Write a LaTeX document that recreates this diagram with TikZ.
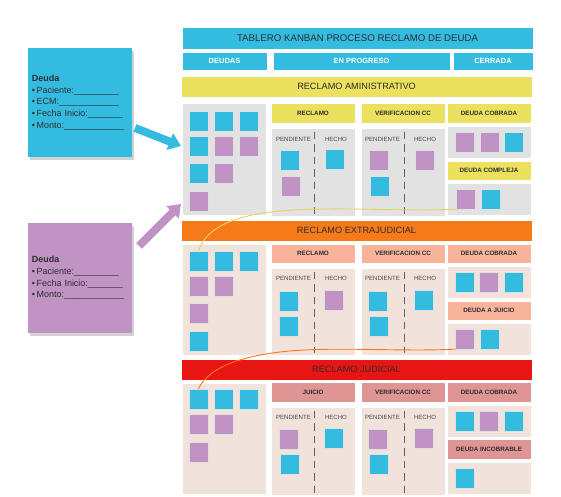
\documentclass[tikz,border=0pt]{standalone}
\usepackage{fontspec}
\setmainfont{Liberation Sans}
\usetikzlibrary{arrows.meta,shadows}

\definecolor{kcyan}{HTML}{33BCE0}
\definecolor{kpurple}{HTML}{C093C4}
\definecolor{kyellow}{HTML}{EBE15F}
\definecolor{korange}{HTML}{F77A1A}
\definecolor{kred}{HTML}{E81515}
\definecolor{kgray}{HTML}{E2E2E2}
\definecolor{ksalmon}{HTML}{F8B39B}
\definecolor{kblush}{HTML}{F2E2DC}
\definecolor{krose}{HTML}{DE9594}
\definecolor{ktext}{HTML}{2E2E2E}

\tikzset{
  panel/.style={draw=white, line width=0.6bp, inner sep=0pt},
  titlebar/.style={panel, fill=kcyan, font=\fontsize{9.7}{11}\selectfont, text=ktext},
  colhead/.style={panel, fill=kcyan, minimum height=18bp, font=\fontsize{7.5}{9}\selectfont\bfseries, text=white},
  lanebar/.style={panel, minimum width=351bp, minimum height=21bp, font=\fontsize{9.2}{10}\selectfont, text=ktext},
  subhead/.style={panel, minimum width=84bp, font=\fontsize{6.3}{8}\selectfont\bfseries, text=ktext},
  area/.style={panel, minimum width=84bp},
  card/.style={minimum width=19bp, minimum height=20bp, inner sep=0pt, draw=black!12, line width=0.3bp,
    drop shadow={shadow xshift=0.5bp, shadow yshift=-0.7bp, opacity=0.25}},
  cyancard/.style={card, fill=kcyan},
  purplecard/.style={card, fill=kpurple},
  colname/.style={font=\fontsize{6.1}{7}\selectfont, text=black!72},
  divider/.style={draw=black!62, line width=0.9bp, dash pattern=on 7.5bp off 5bp, shorten <=4bp, shorten >=2bp},
  bignote/.style={minimum width=104bp, text width=96bp, inner sep=4bp, align=left,
    font=\fontsize{9}{11.7}\selectfont, text=ktext,
    drop shadow={shadow xshift=2bp, shadow yshift=-3bp, opacity=0.35}},
  blockarrow/.style={line width=8bp, -{Triangle[length=12bp, width=17bp]}},
  trail/.style={line width=0.9bp},
}

\begin{document}
\begin{tikzpicture}[x=1bp, y=-1bp]
    \useasboundingbox (0,0) rectangle (561,497);
    \fill[white] (0,0) rectangle (561,497);

    % Board header
    \node[titlebar, minimum width=351bp, minimum height=22bp] (title) at (357.5,38) {TABLERO KANBAN PROCESO RECLAMO DE DEUDA};
    \node[colhead, minimum width=85bp] (deudas) at (224.5,61) {DEUDAS};
    \node[colhead, minimum width=177bp] (progreso) at (361.5,61) {EN PROGRESO};
    \node[colhead, minimum width=80bp] (cerrada) at (493,61) {CERRADA};

    % Lane 1: reclamo administrativo
    \node[lanebar, fill=kyellow] (admin) at (356.5,86.5) {RECLAMO AMINISTRATIVO};
    \node[area, fill=kgray, minimum height=112bp] (pool1) at (224,159) {};
    \node[subhead, fill=kyellow, minimum height=20bp] (rec1) at (313,113) {RECLAMO};
    \node[subhead, fill=kyellow, minimum height=20bp] (ver1) at (403,113) {VERIFICACION CC};
    \node[subhead, fill=kyellow, minimum height=20bp] (cob1) at (489,113) {DEUDA COBRADA};
    \node[area, fill=kgray, minimum height=88bp] (work1a) at (313,172) {};
    \node[area, fill=kgray, minimum height=88bp] (work1b) at (403,172) {};
    \node[area, fill=kgray, minimum height=32bp] (done1) at (489,142) {};
    \node[subhead, fill=kyellow, minimum height=19bp] (comp1) at (489,170.5) {DEUDA COMPLEJA};
    \node[area, fill=kgray, minimum height=32bp] (compbox) at (489,199) {};

    % Lane 2: reclamo extrajudicial
    \node[lanebar, fill=korange] (extra) at (356.5,230.5) {RECLAMO EXTRAJUDICIAL};
    \node[area, fill=kblush, minimum height=111bp] (pool2) at (224,299.5) {};
    \node[subhead, fill=ksalmon, minimum height=19bp] (rec2) at (313,253.5) {RECLAMO};
    \node[subhead, fill=ksalmon, minimum height=19bp] (ver2) at (403,253.5) {VERIFICACION CC};
    \node[subhead, fill=ksalmon, minimum height=19bp] (cob2) at (489,253.5) {DEUDA COBRADA};
    \node[area, fill=kblush, minimum height=87bp] (work2a) at (313,311.5) {};
    \node[area, fill=kblush, minimum height=87bp] (work2b) at (403,311.5) {};
    \node[area, fill=kblush, minimum height=32bp] (done2) at (489,282) {};
    \node[subhead, fill=ksalmon, minimum height=19bp] (juic2) at (489,310.5) {DEUDA A JUICIO};
    \node[area, fill=kblush, minimum height=32bp] (juicbox) at (489,339) {};

    % Lane 3: reclamo judicial
    \node[lanebar, fill=kred] (judicial) at (356.5,369.5) {RECLAMO JUDICIAL};
    \node[area, fill=kblush, minimum height=111bp] (pool3) at (224,438.5) {};
    \node[subhead, fill=krose, minimum height=20bp] (juicio3) at (313,392) {JUICIO};
    \node[subhead, fill=krose, minimum height=20bp] (ver3) at (403,392) {VERIFICACION CC};
    \node[subhead, fill=krose, minimum height=20bp] (cob3) at (489,392) {DEUDA COBRADA};
    \node[area, fill=kblush, minimum height=88bp] (work3a) at (313,451) {};
    \node[area, fill=kblush, minimum height=88bp] (work3b) at (403,451) {};
    \node[area, fill=kblush, minimum height=32bp] (done3) at (489,421) {};
    \node[subhead, fill=krose, minimum height=20bp] (incob3) at (489,449) {DEUDA INCOBRABLE};
    \node[area, fill=kblush, minimum height=32bp] (incobbox) at (489,478) {};

    % Pendiente / hecho split in the work areas
    \foreach \w/\y in {work1a/139, work2a/278, work3a/417} {
        \node[colname] at (293.5,\y) {PENDIENTE};
        \node[colname] at (336,\y) {HECHO};
        \draw[divider] ([xshift=1bp]\w.north) -- ([xshift=1bp]\w.south);
    }
    \foreach \w/\y in {work1b/139, work2b/278, work3b/417} {
        \node[colname] at (382.5,\y) {PENDIENTE};
        \node[colname] at (425,\y) {HECHO};
        \draw[divider] ([xshift=1bp]\w.north) -- ([xshift=1bp]\w.south);
    }

    % Cards, lane 1
    \node[cyancard] (a1) at (198.5,121) {};
    \node[cyancard] (a2) at (223.5,121) {};
    \node[cyancard] (a3) at (248.5,121) {};
    \node[cyancard] (a4) at (198.5,146) {};
    \node[purplecard] (a5) at (223.5,146) {};
    \node[purplecard] (a6) at (248.5,146) {};
    \node[cyancard] (a7) at (198.5,173) {};
    \node[purplecard] (a8) at (223.5,173) {};
    \node[purplecard] (a9) at (198.5,201) {};
    \node[cyancard] (a10) at (289.5,160.5) {};
    \node[purplecard] (a11) at (290.5,186) {};
    \node[cyancard] (a12) at (334.5,159.5) {};
    \node[purplecard] (a13) at (378.5,160.5) {};
    \node[cyancard] (a14) at (379.5,186) {};
    \node[purplecard] (a15) at (424.5,160) {};
    \node[purplecard] (a16) at (465,142) {};
    \node[purplecard] (a17) at (489.5,142) {};
    \node[cyancard] (a18) at (514,142) {};
    \node[purplecard] (a19) at (466,199) {};
    \node[cyancard] (a20) at (490.5,199) {};

    % Cards, lane 2
    \node[cyancard] (b1) at (198.5,261) {};
    \node[cyancard] (b2) at (223.5,261) {};
    \node[cyancard] (b3) at (248.5,261) {};
    \node[purplecard] (b4) at (198.5,286) {};
    \node[purplecard] (b5) at (223.5,286) {};
    \node[purplecard] (b6) at (198.5,313) {};
    \node[cyancard] (b7) at (198.5,341) {};
    \node[cyancard] (b8) at (288.5,301) {};
    \node[cyancard] (b9) at (288.5,326) {};
    \node[purplecard] (b10) at (334,300) {};
    \node[cyancard] (b11) at (377.5,301) {};
    \node[cyancard] (b12) at (378.5,326) {};
    \node[cyancard] (b13) at (423.5,300) {};
    \node[cyancard] (b14) at (464.5,282) {};
    \node[purplecard] (b15) at (489,282) {};
    \node[cyancard] (b16) at (513.5,282) {};
    \node[purplecard] (b17) at (465,339) {};
    \node[cyancard] (b18) at (489.5,339) {};

    % Cards, lane 3
    \node[cyancard] (c1) at (198.5,399) {};
    \node[cyancard] (c2) at (223.5,399) {};
    \node[cyancard] (c3) at (248.5,399) {};
    \node[purplecard] (c4) at (198.5,424.5) {};
    \node[purplecard] (c5) at (224,424.5) {};
    \node[purplecard] (c6) at (198.5,452) {};
    \node[purplecard] (c7) at (288.5,439) {};
    \node[cyancard] (c8) at (289.5,464.5) {};
    \node[cyancard] (c9) at (334,438) {};
    \node[purplecard] (c10) at (377.5,439) {};
    \node[cyancard] (c11) at (378.5,464.5) {};
    \node[purplecard] (c12) at (423.5,438) {};
    \node[cyancard] (c13) at (464.5,421) {};
    \node[purplecard] (c14) at (489,421) {};
    \node[cyancard] (c15) at (513.5,421) {};
    \node[cyancard] (c16) at (465,478) {};

    % Card templates on the left
    \node[bignote, fill=kcyan, minimum height=109bp] (cyannote) at (80,102.5)
        {\textbf{Deuda}\\
         •\,Paciente:\_\_\_\_\_\_\_\_\_\\
         •\,ECM:\_\_\_\_\_\_\_\_\_\_\_\_\\
         •\,Fecha Inicio:\_\_\_\_\_\_\_\\
         •\,Monto:\_\_\_\_\_\_\_\_\_\_\_\_};
    \node[bignote, fill=kpurple, minimum height=110bp] (purplenote) at (80,278)
        {\textbf{Deuda}\\
         •\,Paciente:\_\_\_\_\_\_\_\_\_\\
         •\,Fecha Inicio:\_\_\_\_\_\_\_\\
         •\,Monto:\_\_\_\_\_\_\_\_\_\_\_\_};

    \coordinate (cyanfrom) at (135,128);
    \coordinate (cyanto) at (181,146);
    \coordinate (purplefrom) at (139,246);
    \coordinate (purpleto) at (181,204);
    \draw[blockarrow, kcyan] (cyanfrom) -- (cyanto);
    \draw[blockarrow, kpurple] (purplefrom) -- (purpleto);

    % Escalation trails
    \draw[trail, kyellow!95!black] (b1.north) .. controls (205,232) and (225,216) .. (280,211)
        .. controls (340,206) and (400,212) .. (a19.south west);
    \draw[trail, korange] (c1.north) .. controls (206,372) and (230,358) .. (280,352)
        .. controls (330,346) and (400,352) .. (b17.south west);
\end{tikzpicture}
\end{document}
